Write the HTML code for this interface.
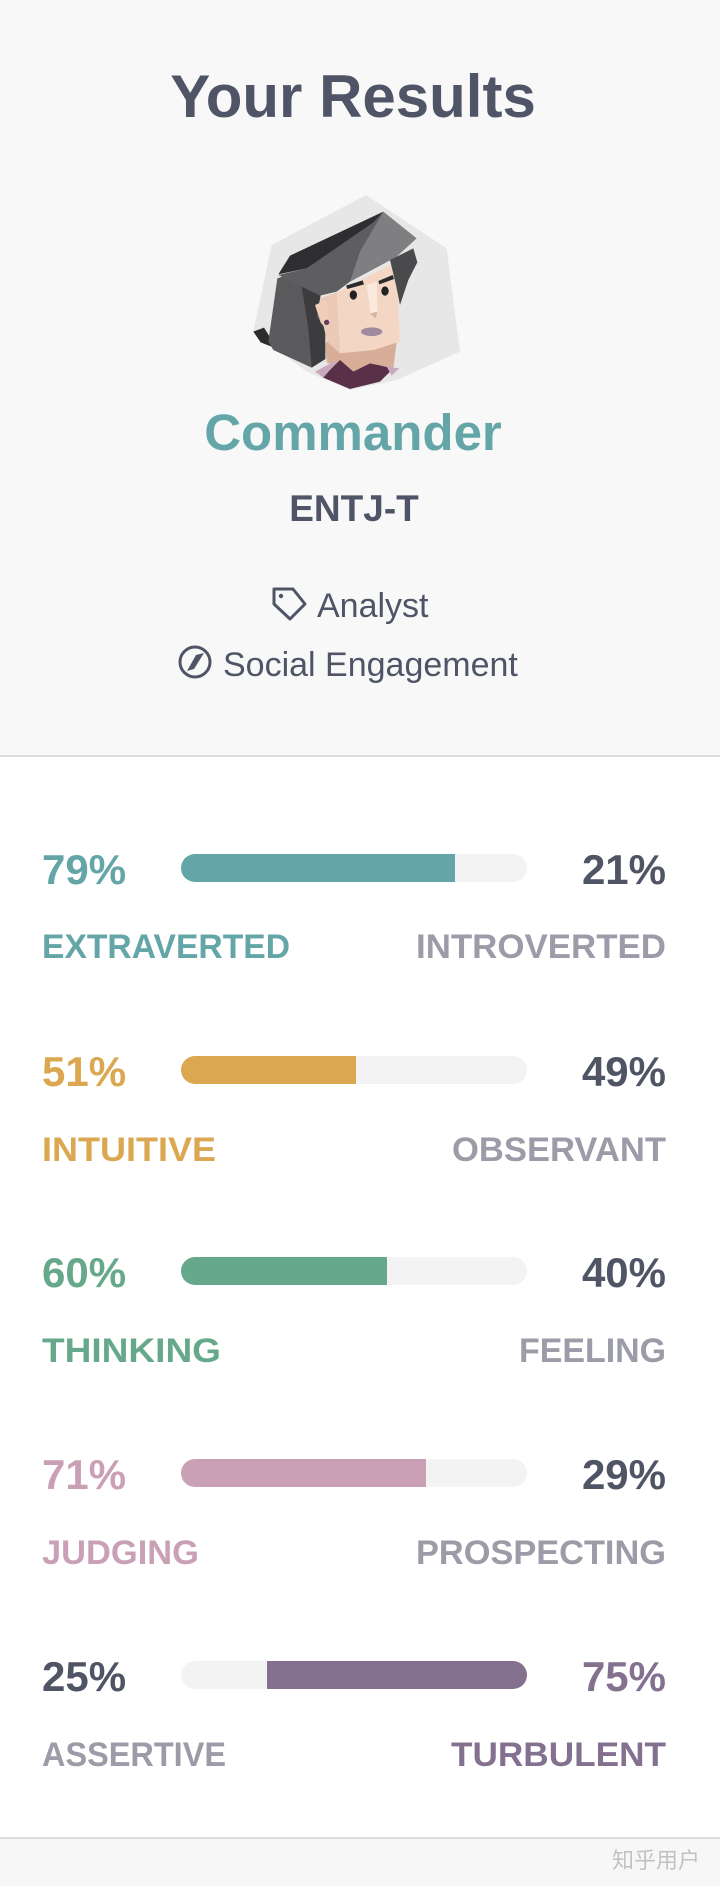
<!DOCTYPE html>
<html>
<head>
<meta charset="utf-8">
<style>
html,body{margin:0;padding:0;background:#fff;}
body{width:720px;height:1886px;overflow:hidden;}
svg{display:block;}
text{font-family:"Liberation Sans","Noto Sans CJK SC",sans-serif;}
</style>
</head>
<body>
<svg width="720" height="1886" viewBox="0 0 720 1886" xmlns="http://www.w3.org/2000/svg">
  <defs>
    <clipPath id="c1"><rect x="181" y="854" width="346" height="28" rx="14"/></clipPath>
    <clipPath id="c2"><rect x="181" y="1056" width="346" height="28" rx="14"/></clipPath>
    <clipPath id="c3"><rect x="181" y="1257" width="346" height="28" rx="14"/></clipPath>
    <clipPath id="c4"><rect x="181" y="1459" width="346" height="28" rx="14"/></clipPath>
    <clipPath id="c5"><rect x="181" y="1661" width="346" height="28" rx="14"/></clipPath>
  </defs>

  <!-- backgrounds -->
  <rect x="0" y="0" width="720" height="755" fill="#f8f8f8"/>
  <rect x="0" y="755" width="720" height="2" fill="#dcdcdc"/>
  <rect x="0" y="757" width="720" height="1080" fill="#ffffff"/>
  <rect x="0" y="1837" width="720" height="2" fill="#dcdcdc"/>
  <rect x="0" y="1839" width="720" height="47" fill="#f7f7f7"/>

  <!-- title -->
  <text x="353" y="117" text-anchor="middle" font-size="60" font-weight="bold" fill="#4f5567">Your Results</text>

  <!-- avatar -->
  <g transform="translate(240,185) scale(0.33333)">
    <polygon points="378,30 620,190 660,500 470,585 330,615 200,560 40,440 95,180" fill="#e7e7e8"/>
    <polygon points="40,440 72,428 112,492 62,472" fill="#2c2c2e"/>
    <polygon points="112,280 200,250 250,300 240,335 228,362 246,420 256,522 215,548 100,495 85,470" fill="#5a5a5c"/>
    <polygon points="185,305 242,332 230,395 256,430 256,522 215,548 205,430" fill="#3c3c3e"/>
    <polygon points="255,470 470,470 460,550 330,562 260,532" fill="#d8ae98"/>
    <polygon points="240,340 300,318 470,230 480,470 400,495 300,505 262,470 250,420" fill="#f3d6c4"/>
    <polygon points="240,340 290,322 300,505 262,470 250,420" fill="#eacab7"/>
    <polygon points="380,300 410,290 412,385 392,390" fill="#fbe9de"/>
    <polygon points="390,386 412,380 406,400" fill="#d9b3a0"/>
    <polygon points="225,360 258,345 270,425 243,415" fill="#f0cdb9"/>
    <circle cx="260" cy="412" r="8" fill="#6b3a5a"/>
    <polygon points="225,560 285,528 305,585 250,578" fill="#c9a9bd"/>
    <polygon points="270,555 300,525 340,560 390,535 460,550 420,590 330,612 250,578" fill="#5a2f48"/>
    <polygon points="440,545 478,550 455,572" fill="#c9a9bd"/>
    <polygon points="115,270 200,250 430,80 470,215 330,290 290,320 240,332" fill="#5e5e60"/>
    <polygon points="360,200 430,80 530,160 470,215 330,290" fill="#7f7f81"/>
    <polygon points="115,268 150,212 430,80 400,112 200,250" fill="#2e2e30"/>
    <polygon points="450,225 520,190 532,232 505,285 480,360 468,300" fill="#4a4a4c"/>
    <polygon points="318,302 368,286 372,298 322,312" fill="#2b2b2d"/>
    <polygon points="415,288 458,270 462,282 418,298" fill="#2b2b2d"/>
    <ellipse cx="340" cy="330" rx="11" ry="14" fill="#222"/>
    <ellipse cx="435" cy="318" rx="11" ry="14" fill="#222"/>
    <ellipse cx="395" cy="440" rx="32" ry="13" fill="#a08aa0"/>
  </g>

  <!-- name -->
  <text x="353" y="450" text-anchor="middle" font-size="51" font-weight="bold" fill="#64a6a8">Commander</text>
  <text x="354" y="521" text-anchor="middle" font-size="37" font-weight="bold" fill="#4f5567">ENTJ-T</text>

  <!-- tag icon -->
  <path d="M274,589 L293,589 L305,604 L290,619 L274,604 Z" fill="none" stroke="#4f5567" stroke-width="3" stroke-linejoin="round"/>
  <circle cx="281" cy="596" r="2.2" fill="#4f5567"/>
  <text x="317" y="617" font-size="34" fill="#4f5567">Analyst</text>

  <!-- compass icon -->
  <circle cx="195" cy="662" r="15" fill="none" stroke="#4f5567" stroke-width="3"/>
  <path d="M187,671 L196,655 L204,653 L194,669 Z" fill="#4f5567"/>
  <text x="223" y="676" font-size="34" fill="#4f5567">Social Engagement</text>

  <!-- Row 1 -->
  <rect x="181" y="854" width="346" height="28" rx="14" fill="#f3f3f4"/>
  <rect x="181" y="854" width="274" height="28" fill="#64a6a8" clip-path="url(#c1)"/>
  <text x="42" y="884" font-size="42" font-weight="bold" fill="#64a6a8">79%</text>
  <text x="666" y="884" text-anchor="end" font-size="42" font-weight="bold" fill="#4f5565">21%</text>
  <text x="42" y="958" font-size="34" font-weight="bold" fill="#64a6a8" textLength="248" lengthAdjust="spacingAndGlyphs">EXTRAVERTED</text>
  <text x="416" y="958" font-size="34" font-weight="bold" fill="#9b9ca8" textLength="250" lengthAdjust="spacingAndGlyphs">INTROVERTED</text>

  <!-- Row 2 -->
  <rect x="181" y="1056" width="346" height="28" rx="14" fill="#f3f3f4"/>
  <rect x="181" y="1056" width="175" height="28" fill="#dba751" clip-path="url(#c2)"/>
  <text x="42" y="1086" font-size="42" font-weight="bold" fill="#dba751">51%</text>
  <text x="666" y="1086" text-anchor="end" font-size="42" font-weight="bold" fill="#4f5565">49%</text>
  <text x="42" y="1161" font-size="34" font-weight="bold" fill="#dba751" textLength="174" lengthAdjust="spacingAndGlyphs">INTUITIVE</text>
  <text x="452" y="1161" font-size="34" font-weight="bold" fill="#9b9ca8" textLength="214" lengthAdjust="spacingAndGlyphs">OBSERVANT</text>

  <!-- Row 3 -->
  <rect x="181" y="1257" width="346" height="28" rx="14" fill="#f3f3f4"/>
  <rect x="181" y="1257" width="206" height="28" fill="#66a98a" clip-path="url(#c3)"/>
  <text x="42" y="1287" font-size="42" font-weight="bold" fill="#66a98a">60%</text>
  <text x="666" y="1287" text-anchor="end" font-size="42" font-weight="bold" fill="#4f5565">40%</text>
  <text x="42" y="1362" font-size="34" font-weight="bold" fill="#66a98a" textLength="179" lengthAdjust="spacingAndGlyphs">THINKING</text>
  <text x="519" y="1362" font-size="34" font-weight="bold" fill="#9b9ca8" textLength="147" lengthAdjust="spacingAndGlyphs">FEELING</text>

  <!-- Row 4 -->
  <rect x="181" y="1459" width="346" height="28" rx="14" fill="#f3f3f4"/>
  <rect x="181" y="1459" width="245" height="28" fill="#c9a0b5" clip-path="url(#c4)"/>
  <text x="42" y="1489" font-size="42" font-weight="bold" fill="#c9a0b5">71%</text>
  <text x="666" y="1489" text-anchor="end" font-size="42" font-weight="bold" fill="#4f5565">29%</text>
  <text x="42" y="1564" font-size="34" font-weight="bold" fill="#c9a0b5" textLength="157" lengthAdjust="spacingAndGlyphs">JUDGING</text>
  <text x="416" y="1564" font-size="34" font-weight="bold" fill="#9b9ca8" textLength="250" lengthAdjust="spacingAndGlyphs">PROSPECTING</text>

  <!-- Row 5 -->
  <rect x="181" y="1661" width="346" height="28" rx="14" fill="#f3f3f4"/>
  <rect x="267" y="1661" width="260" height="28" fill="#847190" clip-path="url(#c5)"/>
  <text x="42" y="1691" font-size="42" font-weight="bold" fill="#4f5565">25%</text>
  <text x="666" y="1691" text-anchor="end" font-size="42" font-weight="bold" fill="#847190">75%</text>
  <text x="42" y="1766" font-size="34" font-weight="bold" fill="#9b9ca8" textLength="184" lengthAdjust="spacingAndGlyphs">ASSERTIVE</text>
  <text x="451" y="1766" font-size="34" font-weight="bold" fill="#847190" textLength="215" lengthAdjust="spacingAndGlyphs">TURBULENT</text>

  <!-- watermark -->
  <text x="700" y="1868" text-anchor="end" font-size="22" fill="#c2c2c2" font-family="'Noto Sans CJK SC',sans-serif">知乎用户</text>
</svg>
</body>
</html>
